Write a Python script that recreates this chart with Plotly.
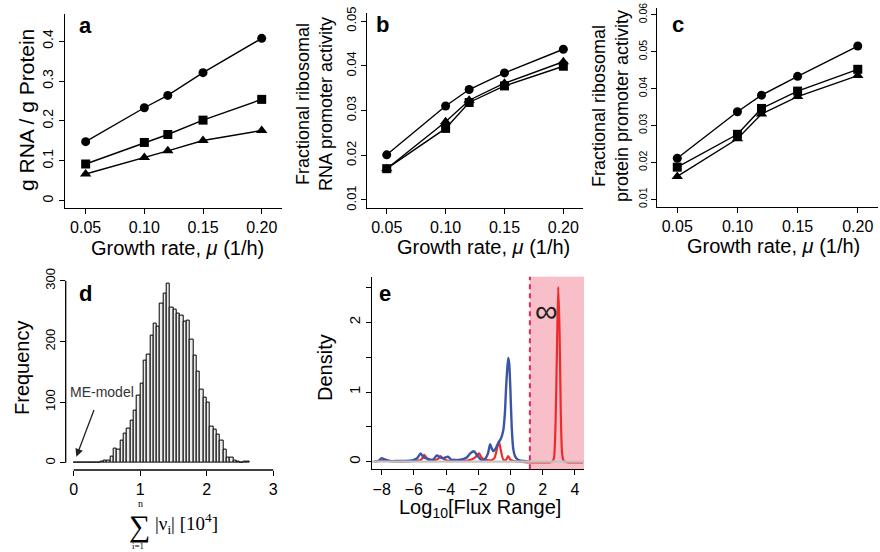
import plotly.graph_objects as go

W, H = 880, 552
def px(x): return x / W
def py(y): return 1 - y / H

# ---------------- data ----------------
growth = [0.05, 0.10, 0.12, 0.15, 0.20]
a_circle = [0.148, 0.233, 0.264, 0.321, 0.407]
a_square = [0.092, 0.146, 0.166, 0.202, 0.254]
a_triangle = [0.067, 0.108, 0.125, 0.151, 0.176]

b_circle = [0.0201, 0.0310, 0.0347, 0.0384, 0.0437]
b_square = [0.0170, 0.0260, 0.0318, 0.0355, 0.0399]
b_triangle = [0.0170, 0.0275, 0.0323, 0.0361, 0.0409]

c_circle = [0.0211, 0.0337, 0.0382, 0.0433, 0.0515]
c_square = [0.0187, 0.0276, 0.0346, 0.0393, 0.0452]
c_triangle = [0.0162, 0.0264, 0.0331, 0.0378, 0.0435]

hist_left = [0.00, 0.05, 0.10, 0.15, 0.20, 0.25, 0.30, 0.35, 0.40, 0.45,
             0.50, 0.55, 0.60, 0.65, 0.70, 0.75, 0.80, 0.85, 0.90, 0.95,
             1.00, 1.05, 1.10, 1.15, 1.20, 1.25, 1.30, 1.35, 1.40, 1.45,
             1.50, 1.55, 1.60, 1.65, 1.70, 1.75, 1.80, 1.85, 1.90, 1.95,
             2.00, 2.05, 2.10, 2.15, 2.20, 2.25, 2.30, 2.35, 2.40, 2.45,
             2.50, 2.55, 2.60]
hist_count = [1, 0, 0, 0, 0, 0, 1, 1, 2, 3,
              4, 10, 23, 21, 36, 48, 57, 70, 86, 110,
              131, 168, 178, 209, 229, 225, 262, 279, 295, 256,
              253, 246, 242, 232, 234, 203, 176, 150, 120, 108,
              99, 60, 55, 47, 37, 21, 9, 9, 4, 2,
              1, 2, 2]
bin_width = 0.05

blue_x = [-8.45, -8.2, -8.0, -7.8, -7.5, -7.0, -6.5, -6.1, -5.8, -5.58, -5.4, -5.25,
          -5.0, -4.8, -4.58, -4.35, -4.17, -3.95, -3.86, -3.7, -3.55, -3.3, -3.1,
          -2.9, -2.72, -2.5, -2.27, -2.1, -2.0, -1.85, -1.7, -1.55, -1.4, -1.27,
          -1.15, -1.06, -0.9, -0.76, -0.6, -0.45, -0.35, -0.28, -0.2, -0.14, -0.08,
          -0.02, 0.07, 0.17, 0.28, 0.4, 0.55, 0.8, 1.0, 1.2]
blue_y = [0.0, 0.01, 0.05, 0.03, 0.01, 0.01, 0.01, 0.02, 0.05, 0.12, 0.06, 0.05,
          0.03, 0.03, 0.09, 0.06, 0.05, 0.07, 0.07, 0.03, 0.02, 0.02, 0.03,
          0.04, 0.06, 0.12, 0.15, 0.1, 0.07, 0.03, 0.02, 0.05, 0.12, 0.25,
          0.18, 0.15, 0.2, 0.27, 0.33, 0.45, 0.7, 1.05, 1.35, 1.49, 1.4,
          1.1, 0.51, 0.18, 0.08, 0.04, 0.02, 0.01, 0.005, 0.0]

red_x = [-8.45, -8.1, -7.8, -7.5, -7.0, -6.5, -6.0, -5.6, -5.45, -5.35, -5.2,
         -5.0, -4.7, -4.5, -4.35, -4.2, -4.0, -3.7, -3.5, -3.2, -2.9, -2.6,
         -2.35, -2.2, -2.05, -1.95, -1.8, -1.6, -1.4, -1.2, -1.0, -0.85, -0.72,
         -0.6, -0.45, -0.3, -0.15, -0.02, 0.2, 0.6, 1.0, 1.5, 2.0, 2.4, 2.6,
         2.7, 2.8, 2.88, 2.96, 3.04, 3.12, 3.2, 3.3, 3.4, 3.6, 4.0, 4.5]
red_y = [0.0, 0.01, 0.03, 0.01, 0.0, 0.0, 0.01, 0.02, 0.06, 0.1, 0.05,
         0.01, 0.02, 0.04, 0.08, 0.05, 0.02, 0.01, 0.03, 0.02, 0.01, 0.02,
         0.04, 0.06, 0.1, 0.12, 0.06, 0.03, 0.02, 0.02, 0.05, 0.18, 0.29,
         0.16, 0.03, 0.02, 0.08, 0.03, 0.01, 0.0, -0.01, -0.01, -0.01, -0.01, 0.0,
         0.06, 0.6, 1.6, 2.51, 1.9, 0.7, 0.12, 0.01, 0.0, -0.01, -0.01, -0.01]

infinite_cut = 1.2

# ---------------- figure ----------------
fig = go.Figure()
FONT = "Liberation Sans, Arial, Helvetica, sans-serif"
SERIF = "Liberation Serif, Times New Roman, serif"

def add_growth(xa, ya, c, s, t):
    common = dict(mode="lines+markers", line=dict(color="black", width=1.4),
                  xaxis=xa, yaxis=ya, showlegend=False, cliponaxis=False)
    fig.add_trace(go.Scatter(x=growth, y=c, marker=dict(symbol="circle", size=9, color="black"), **common))
    fig.add_trace(go.Scatter(x=growth, y=s, marker=dict(symbol="square", size=9, color="black"), **common))
    fig.add_trace(go.Scatter(x=growth, y=t, marker=dict(symbol="triangle-up", size=10, color="black"), **common))

add_growth("x", "y", a_circle, a_square, a_triangle)
add_growth("x2", "y2", b_circle, b_square, b_triangle)
add_growth("x3", "y3", c_circle, c_square, c_triangle)

fig.add_trace(go.Bar(x=hist_left, y=hist_count, width=bin_width, offset=0,
                     marker=dict(color="#ececec", line=dict(color="black", width=1)),
                     xaxis="x4", yaxis="y4", showlegend=False))

fig.add_trace(go.Scatter(x=red_x, y=red_y, mode="lines", line=dict(color="#ee2a2a", width=2.2, shape="spline", smoothing=0.6),
                         xaxis="x5", yaxis="y5", showlegend=False))
fig.add_trace(go.Scatter(x=blue_x, y=blue_y, mode="lines", line=dict(color="#3a55a5", width=2.4, shape="spline", smoothing=0.6),
                         xaxis="x5", yaxis="y5", showlegend=False))
fig.add_trace(go.Scatter(x=[-8.62, 4.56], y=[0, 0], mode="lines",
                         line=dict(color="#c4c4c4", width=2.2), xaxis="x5", yaxis="y5",
                         showlegend=False))

def axis_style(**kw):
    d = dict(showline=True, linecolor="black", linewidth=1.3, ticks="outside", ticklen=5,
             tickwidth=1.3, tickcolor="black", showgrid=False, zeroline=False, mirror=False,
             automargin=False, tickfont=dict(family=FONT, size=16, color="black"))
    d.update(kw)
    return d

def ytick(size):
    return dict(family=FONT, size=size, color="black")

layout = dict(
    width=W, height=H, margin=dict(l=0, r=0, t=0, b=0, pad=0, autoexpand=False),
    plot_bgcolor="white", paper_bgcolor="white", bargap=0,
    xaxis=axis_style(domain=[px(65), px(282)], range=[0.0324, 0.2173], anchor="y",
                     tickvals=[0.05, 0.10, 0.15, 0.20], ticktext=["0.05", "0.10", "0.15", "0.20"]),
    yaxis=axis_style(domain=[py(208), py(14)], range=[-0.0183, 0.468], anchor="x",
                     tickvals=[0, 0.1, 0.2, 0.3, 0.4], ticktext=["0", "0.1", "0.2", "0.3", "0.4"],
                     tickangle=-90, tickfont=ytick(14)),
    xaxis2=axis_style(domain=[px(367.3), px(583)], range=[0.0335, 0.2167], anchor="y2",
                      tickvals=[0.05, 0.10, 0.15, 0.20], ticktext=["0.05", "0.10", "0.15", "0.20"]),
    yaxis2=axis_style(domain=[py(208), py(13)], range=[0.00821, 0.0518], anchor="x2",
                      tickvals=[0.01, 0.02, 0.03, 0.04, 0.05],
                      ticktext=["0.01", "0.02", "0.03", "0.04", "0.05"],
                      tickangle=-90, tickfont=ytick(13)),
    xaxis3=axis_style(domain=[px(657.3), px(878)], range=[0.0334, 0.2168], anchor="y3",
                      tickvals=[0.05, 0.10, 0.15, 0.20], ticktext=["0.05", "0.10", "0.15", "0.20"]),
    yaxis3=axis_style(domain=[py(207), py(8)], range=[0.00791, 0.0618], anchor="x3",
                      tickvals=[0.01, 0.02, 0.03, 0.04, 0.05, 0.06],
                      ticktext=["0.01", "0.02", "0.03", "0.04", "0.05", "0.06"],
                      tickangle=-90, tickfont=ytick(10.5)),
    xaxis4=axis_style(domain=[px(65.7), px(281.3)], range=[-0.12, 3.12], anchor="y4",
                      showline=False, tickvals=[0, 1, 2, 3], ticktext=["0", "1", "2", "3"]),
    yaxis4=axis_style(domain=[py(470), py(276.6)], range=[-12, 307], anchor="x4",
                      showline=False, tickvals=[0, 100, 200, 300], ticktext=["0", "100", "200", "300"],
                      tickangle=-90, tickfont=ytick(13)),
    xaxis5=axis_style(domain=[px(371.7), px(584)], range=[-8.62, 4.56], anchor="y5",
                      tickvals=[-8, -6, -4, -2, 0, 2, 4],
                      ticktext=["\u22128", "\u22126", "\u22124", "\u22122", "0", "2", "4"]),
    yaxis5=axis_style(domain=[py(469.3), py(276.7)], range=[-0.109, 2.654], anchor="x5",
                      tickvals=[0, 0.5, 1, 1.5, 2, 2.5], ticktext=["0", " ", "1", " ", "2", " "],
                      tickangle=-90, tickfont=ytick(15)),
)
fig.update_layout(**layout)

shapes = [
    dict(type="rect", xref="x5", yref="y5 domain", x0=infinite_cut, x1=4.56, y0=0, y1=1,
         fillcolor="#f8bfc8", line=dict(width=0), layer="below"),
    dict(type="line", xref="x5", yref="y5 domain", x0=infinite_cut, x1=infinite_cut, y0=0, y1=1,
         line=dict(color="#e8245a", width=2, dash="5px,4px")),
    dict(type="line", xref="x4 domain", yref="y4", x0=0, x1=0, y0=0, y1=300,
         line=dict(color="black", width=1.3)),
    dict(type="line", xref="x4", yref="y4 domain", x0=0, x1=3, y0=0, y1=0,
         line=dict(color="black", width=1.3)),
]
fig.update_layout(shapes=shapes)

ann = []
def label(text, x, y, size=20, angle=0, family=FONT, color="black", **kw):
    ann.append(dict(text=text, x=px(x), y=py(y), xref="paper", yref="paper", showarrow=False,
                    textangle=angle, font=dict(family=family, size=size, color=color),
                    xanchor="center", yanchor="middle", **kw))

for t, x, y in [("a", 85, 26), ("b", 382, 25), ("c", 678, 25), ("d", 85, 293), ("e", 385, 293)]:
    label("<b>%s</b>" % t, x, y, size=22)

xt = "Growth rate, <i>\u03bc</i> (1/h)"
label(xt, 177.5, 248, size=20)
label(xt, 483, 247, size=20)
label(xt, 773, 246, size=20)
label("g RNA / g Protein", 26, 110, size=21, angle=-90)
label("Fractional ribosomal<br>RNA promoter activity", 315, 104, size=18, angle=-90)
label("Fractional ribosomal<br>protein promoter activity", 611, 106, size=18, angle=-90)
label("Frequency", 22, 368, size=20, angle=-90)
label("Density", 325, 368, size=20, angle=-90)
label("Log<sub>10</sub>[Flux Range]", 480, 508, size=20)

label("\u2211", 139, 526, size=30, family=SERIF)
label("n", 140, 504, size=10, family=SERIF)
label("i=1", 138, 546, size=9, family=SERIF)
label("|\u03bd<sub>i</sub>| [10<sup>4</sup>]", 186, 523, size=19, family=SERIF)

ann.append(dict(text="\u221e", x=2.26, y=2.16, xref="x5", yref="y5", showarrow=False,
                font=dict(family=FONT, size=32, color="#222222"), xanchor="center", yanchor="middle"))

label("ME-model", 102, 392, size=14, color="#333333")
ann.append(dict(text=" ", x=0.04, y=10, xref="x4", yref="y4", ax=0.35, ay=100,
                axref="x4", ayref="y4", showarrow=True, arrowhead=2, arrowsize=1.2,
                arrowwidth=1.3, arrowcolor="#222222"))

fig.update_layout(annotations=ann)
fig.write_html("out.html", config={"displayModeBar": False},
               post_script="document.body.style.margin='0';document.body.style.overflow='hidden';")
